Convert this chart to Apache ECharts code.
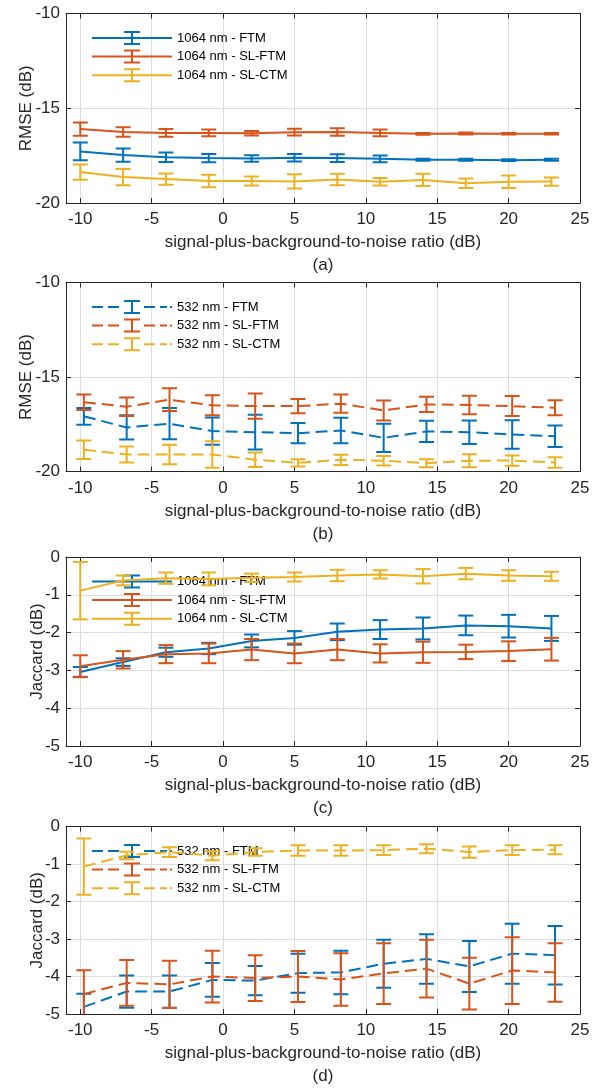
<!DOCTYPE html>
<html><head><meta charset="utf-8">
<script src="https://cdn.jsdelivr.net/npm/echarts@6/dist/echarts.min.js"></script>
<style>html,body{margin:0;padding:0;background:#fff}#c{width:599px;height:1089px}</style>
</head><body><div id="c"></div>
<script>
// ---------- DATA ----------
const snr1064 = [-10, -7, -4, -1, 2, 5, 8, 11, 14, 17, 20, 23];
const snr532 = [-9.75, -6.75, -3.75, -0.75, 2.25, 5.25, 8.25, 11.25, 14.25, 17.25, 20.25, 23.25];

const seriesNames1064 = ['1064 nm - FTM', '1064 nm - SL-FTM', '1064 nm - SL-CTM'];
const seriesNames532 = ['532 nm - FTM', '532 nm - SL-FTM', '532 nm - SL-CTM'];
const panelLabels = ['(a)', '(b)', '(c)', '(d)'];
const xTitle = 'signal-plus-background-to-noise ratio (dB)';
const yTitles = ['RMSE (dB)', 'RMSE (dB)', 'Jaccard (dB)', 'Jaccard (dB)'];

// (a) RMSE 1064 nm
const rmse1064FTM = [-17.28, -17.47, -17.58, -17.63, -17.65, -17.61, -17.63, -17.67, -17.72, -17.72, -17.74, -17.72];
const rmse1064FTMErr = [0.47, 0.35, 0.25, 0.22, 0.17, 0.2, 0.2, 0.18, 0.05, 0.05, 0.05, 0.05];
const rmse1064SLFTM = [-16.1, -16.25, -16.3, -16.3, -16.32, -16.26, -16.25, -16.3, -16.35, -16.33, -16.35, -16.35];
const rmse1064SLFTMErr = [0.35, 0.25, 0.2, 0.18, 0.12, 0.18, 0.2, 0.18, 0.05, 0.05, 0.04, 0.04];
const rmse1064SLCTM = [-18.37, -18.63, -18.74, -18.84, -18.84, -18.86, -18.76, -18.88, -18.78, -18.96, -18.88, -18.87];
const rmse1064SLCTMErr = [0.4, 0.43, 0.3, 0.33, 0.24, 0.38, 0.3, 0.2, 0.32, 0.25, 0.33, 0.22];

// (b) RMSE 532 nm
const rmse532FTM = [-17.08, -17.67, -17.47, -17.86, -17.92, -17.97, -17.83, -18.22, -17.88, -17.92, -18.04, -18.13];
const rmse532FTMErr = [0.44, 0.64, 0.83, 0.72, 0.92, 0.53, 0.67, 0.75, 0.56, 0.62, 0.75, 0.57];
const rmse532SLFTM = [-16.33, -16.57, -16.2, -16.5, -16.54, -16.54, -16.41, -16.77, -16.45, -16.48, -16.54, -16.63];
const rmse532SLFTMErr = [0.41, 0.49, 0.6, 0.53, 0.67, 0.38, 0.48, 0.53, 0.4, 0.49, 0.53, 0.4];
const rmse532SLCTM = [-18.85, -19.1, -19.1, -19.1, -19.38, -19.54, -19.38, -19.43, -19.56, -19.43, -19.42, -19.52];
const rmse532SLCTMErr = [0.49, 0.42, 0.52, 0.7, 0.38, 0.19, 0.27, 0.25, 0.21, 0.34, 0.27, 0.28];

// (c) Jaccard 1064 nm
const jac1064FTM = [-3.04, -2.78, -2.52, -2.42, -2.22, -2.14, -1.98, -1.92, -1.89, -1.81, -1.83, -1.89];
const jac1064FTMErr = [0.13, 0.1, 0.12, 0.15, 0.17, 0.18, 0.22, 0.25, 0.29, 0.26, 0.3, 0.33];
const jac1064SLFTM = [-2.89, -2.72, -2.57, -2.55, -2.45, -2.55, -2.45, -2.55, -2.52, -2.51, -2.49, -2.44];
const jac1064SLFTMErr = [0.29, 0.23, 0.24, 0.26, 0.28, 0.26, 0.28, 0.24, 0.28, 0.19, 0.26, 0.3];
const jac1064SLCTM = [-0.89, -0.62, -0.56, -0.58, -0.55, -0.53, -0.49, -0.46, -0.51, -0.44, -0.49, -0.51];
const jac1064SLCTMErr = [0.76, 0.13, 0.15, 0.17, 0.11, 0.12, 0.15, 0.11, 0.19, 0.15, 0.14, 0.12];

// (d) Jaccard 532 nm
const jac532FTM = [-4.81, -4.4, -4.4, -4.09, -4.11, -3.91, -3.89, -3.66, -3.53, -3.73, -3.39, -3.43];
const jac532FTMErr = [0.35, 0.43, 0.43, 0.45, 0.39, 0.52, 0.58, 0.64, 0.66, 0.68, 0.8, 0.78];
const jac532SLFTM = [-4.47, -4.17, -4.21, -4.0, -4.04, -4.0, -4.08, -3.92, -3.79, -4.19, -3.84, -3.89];
const jac532SLFTMErr = [0.64, 0.61, 0.63, 0.69, 0.61, 0.68, 0.7, 0.81, 0.77, 0.69, 0.89, 0.78];
const jac532SLCTM = [-1.07, -0.77, -0.68, -0.78, -0.68, -0.64, -0.64, -0.63, -0.59, -0.68, -0.63, -0.62];
const jac532SLCTMErr = [0.75, 0.1, 0.13, 0.12, 0.1, 0.14, 0.14, 0.13, 0.12, 0.15, 0.13, 0.12];

// axis ranges
const xRange = [-11, 25];
const yRangesRMSE = [-20, -10];
const yRangesJac = [-5, 0];

// ---------- STYLE / LAYOUT ----------
const colors = ['#0072BD', '#D95319', '#EDB120'];
const FONT = '"Liberation Sans", Arial, Helvetica, sans-serif';
const AX = '#262626';
const GRID = '#dedede';
const tops = [13.5, 282.5, 557, 826.5];
const heights = [189.5, 189, 189, 190];
const gridLeft = 66, gridRight = 19;
const TICK_FS = 17, NAME_FS = 17;

const panels = [
  {x: snr1064, names: seriesNames1064, dashed: false, y: [rmse1064FTM, rmse1064SLFTM, rmse1064SLCTM], e: [rmse1064FTMErr, rmse1064SLFTMErr, rmse1064SLCTMErr], yr: yRangesRMSE, iv: 5, nameGap: 31},
  {x: snr532, names: seriesNames532, dashed: true, y: [rmse532FTM, rmse532SLFTM, rmse532SLCTM], e: [rmse532FTMErr, rmse532SLFTMErr, rmse532SLCTMErr], yr: yRangesRMSE, iv: 5, nameGap: 31},
  {x: snr1064, names: seriesNames1064, dashed: false, y: [jac1064FTM, jac1064SLFTM, jac1064SLCTM], e: [jac1064FTMErr, jac1064SLFTMErr, jac1064SLCTMErr], yr: yRangesJac, iv: 1, nameGap: 20},
  {x: snr532, names: seriesNames532, dashed: true, y: [jac532FTM, jac532SLFTM, jac532SLCTM], e: [jac532FTMErr, jac532SLFTMErr, jac532SLCTMErr], yr: yRangesJac, iv: 1, nameGap: 20}
];

const iconSolid = 'path://M0,6H80V8H0Z M39,0H41V14H39Z M32,0H48V2H32Z M32,12H48V14H32Z';
const iconDashed = 'path://M0,6H11V8H0Z M16,6H27V8H16Z M39,0H41V14H39Z M32,0H48V2H32Z M32,12H48V14H32Z M52,6H63V8H52Z M68,6H75V8H68Z M78,6H80V8H78Z';

function errRender(color) {
  return function (params, api) {
    const x = api.value(0), y = api.value(1), e = api.value(2);
    const t = api.coord([x, y + e]);
    const b = api.coord([x, y - e]);
    const hw = 7.5;
    const st = {stroke: color, lineWidth: 2, fill: null};
    return {
      type: 'group',
      children: [
        {type: 'line', shape: {x1: t[0], y1: t[1], x2: b[0], y2: b[1]}, style: st},
        {type: 'line', shape: {x1: t[0] - hw, y1: t[1], x2: t[0] + hw, y2: t[1]}, style: st},
        {type: 'line', shape: {x1: b[0] - hw, y1: b[1], x2: b[0] + hw, y2: b[1]}, style: st}
      ]
    };
  };
}

const grid = [], xAxis = [], yAxis = [], series = [], legend = [];
panels.forEach((p, i) => {
  grid.push({left: gridLeft, right: gridRight, top: tops[i], height: heights[i], containLabel: false});
  const common = {
    gridIndex: i, type: 'value', nameMoveOverlap: false,
    axisLine: {show: true, onZero: false, lineStyle: {color: AX, width: 1}},
    axisTick: {show: true, inside: true, length: 5, lineStyle: {color: AX, width: 1}}
  };
  // bottom x
  xAxis.push(Object.assign({}, common, {
    position: 'bottom', min: xRange[0], max: xRange[1], minInterval: 5, maxInterval: 5, splitNumber: 7,
    axisLabel: {color: AX, fontSize: TICK_FS, fontFamily: FONT, margin: 8,
      formatter: v => (Math.round(v) % 5 === 0 ? String(v) : '')},
    splitLine: {show: true, lineStyle: {color: GRID, width: 1}},
    name: xTitle + '\n' + panelLabels[i], nameLocation: 'middle', nameGap: 28,
    nameTextStyle: {color: AX, fontSize: NAME_FS, fontFamily: FONT, lineHeight: 23}
  }));
  // top x (box)
  xAxis.push(Object.assign({}, common, {
    position: 'top', min: xRange[0], max: xRange[1], minInterval: 5, maxInterval: 5, splitNumber: 7,
    axisLabel: {show: false}, splitLine: {show: false}
  }));
  // left y
  yAxis.push(Object.assign({}, common, {
    position: 'left', min: p.yr[0], max: p.yr[1], interval: p.iv,
    axisLabel: {color: AX, fontSize: TICK_FS, fontFamily: FONT, margin: 6},
    splitLine: {show: true, lineStyle: {color: GRID, width: 1}},
    name: yTitles[i], nameLocation: 'middle', nameGap: p.nameGap, nameRotate: 90,
    nameTextStyle: {color: AX, fontSize: NAME_FS, fontFamily: FONT}
  }));
  // right y (box)
  yAxis.push(Object.assign({}, common, {
    position: 'right', min: p.yr[0], max: p.yr[1], interval: p.iv,
    axisLabel: {show: false}, splitLine: {show: false}
  }));

  p.names.forEach((nm, k) => {
    const lineData = p.x.map((xv, j) => [xv, p.y[k][j]]);
    const errData = p.x.map((xv, j) => [xv, p.y[k][j], p.e[k][j]]);
    series.push({
      type: 'line', name: nm, xAxisIndex: 2 * i, yAxisIndex: 2 * i,
      data: lineData, symbol: 'none', silent: true, animation: false,
      color: colors[k],
      itemStyle: {color: colors[k], borderWidth: 0},
      lineStyle: {color: colors[k], width: 2, type: p.dashed ? [12, 6] : 'solid'},
      z: 2 + k
    });
    series.push({
      type: 'custom', name: nm + ' err', xAxisIndex: 2 * i, yAxisIndex: 2 * i,
      data: errData, renderItem: errRender(colors[k]), clip: true, silent: true, animation: false,
      encode: {x: 0, y: 1}, z: 2 + k
    });
  });

  legend.push({
    orient: 'vertical', left: 92, top: tops[i] + 17.5, padding: 0,
    itemWidth: 80, itemHeight: 14, itemGap: 4.6, selectedMode: false,
    itemStyle: {borderWidth: 0},
    textStyle: {color: '#000', fontSize: 13, fontFamily: FONT},
    data: p.names.map(nm => ({name: nm, icon: p.dashed ? iconDashed : iconSolid}))
  });
});

const chart = echarts.init(document.getElementById('c'), null, {renderer: 'canvas'});
chart.setOption({
  backgroundColor: '#fff',
  animation: false,
  grid, xAxis, yAxis, series, legend
});
</script>
</body></html>
